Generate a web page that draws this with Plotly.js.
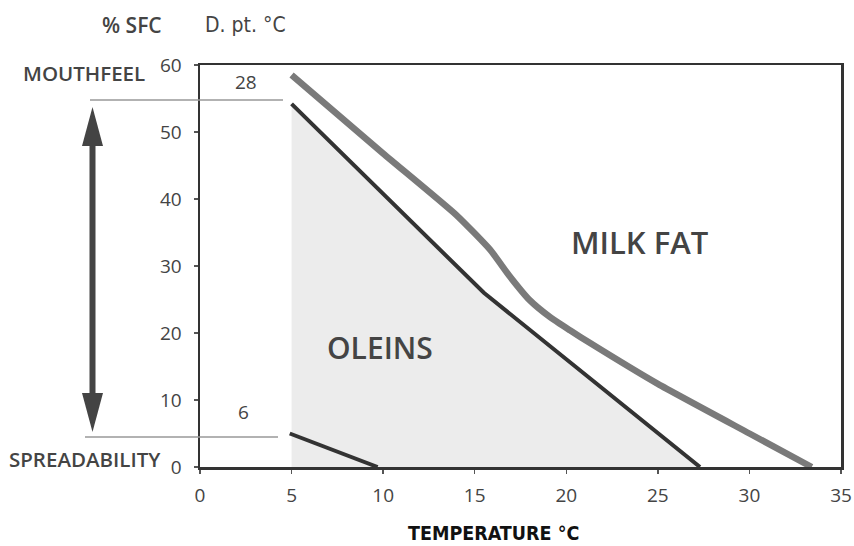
<!DOCTYPE html>
<html>
<head>
<meta charset="utf-8">
<script src="https://cdn.plot.ly/plotly-3.0.1.min.js"></script>
<style>html,body{margin:0;padding:0;background:#fff;}#chart{width:854px;height:546px;}</style>
</head>
<body>
<div id="chart"></div>
<script>
// Milk fat solid fat content curve
var milkFatTemp = [5, 10, 14, 15.85, 16.9, 18, 19.1, 20.2, 21.3, 25, 30, 33.4];
var milkFatSFC  = [58.5, 46.8, 37.6, 32.4, 28.5, 24.9, 22.4, 20.4, 18.5, 12.4, 5, 0];
// Oleins (shaded region upper boundary)
var oleinTemp = [5, 15.5, 27.3];
var oleinSFC  = [54.2, 26, 0];
// Low melting fraction
var lowTemp = [4.9, 9.7];
var lowSFC  = [5, 0];

var xTicks = [0, 5, 10, 15, 20, 25, 30, 35];
var yTicks = [0, 10, 20, 30, 40, 50, 60];

var TXT = '#444';
var LF = 'Open Sans';

var traces = [
  {x: oleinTemp, y: oleinSFC, mode: 'lines', fill: 'tozeroy', fillcolor: '#ececec',
   line: {color: '#333', width: 4}, hoverinfo: 'skip'},
  {x: lowTemp, y: lowSFC, mode: 'lines', line: {color: '#333', width: 4}, hoverinfo: 'skip'},
  {x: milkFatTemp, y: milkFatSFC, mode: 'lines', line: {color: '#7a7a7a', width: 6.5, shape: 'spline', smoothing: 0.5}, hoverinfo: 'skip'}
];

function px(p){ return (p - 200) / 641; }
function py(p){ return (467 - p) / 402; }

var shapes = [
  {type: 'line', xref: 'paper', yref: 'paper', x0: px(90), x1: px(283), y0: py(100), y1: py(100), line: {color: '#999', width: 1.3}},
  {type: 'line', xref: 'paper', yref: 'paper', x0: px(85), x1: px(278), y0: py(437), y1: py(437), line: {color: '#999', width: 1.3}},
  {type: 'line', xref: 'paper', yref: 'paper', x0: px(92.5), x1: px(92.5), y0: py(140), y1: py(398), line: {color: '#444', width: 6}},
  {type: 'path', xref: 'paper', yref: 'paper', fillcolor: '#444', line: {width: 0},
   path: 'M ' + px(92.5) + ' ' + py(107) + ' L ' + px(82) + ' ' + py(146) + ' L ' + px(103) + ' ' + py(146) + ' Z'},
  {type: 'path', xref: 'paper', yref: 'paper', fillcolor: '#444', line: {width: 0},
   path: 'M ' + px(92.5) + ' ' + py(432) + ' L ' + px(82) + ' ' + py(393) + ' L ' + px(103) + ' ' + py(393) + ' Z'}
];

var annotations = [
  {text: '% SFC', xref: 'paper', yref: 'paper', x: px(132), y: py(25), showarrow: false, xanchor: 'center', yanchor: 'middle',
   font: {family: LF, size: 21, color: TXT, weight: 600}},
  {text: 'D. pt. °C', xref: 'paper', yref: 'paper', x: px(245), y: py(25), showarrow: false, xanchor: 'center', yanchor: 'middle',
   font: {family: 'DejaVu Sans Condensed', size: 21, color: TXT}},
  {text: 'MOUTHFEEL', xref: 'paper', yref: 'paper', x: px(84), y: py(73), showarrow: false, xanchor: 'center', yanchor: 'middle',
   font: {family: LF, size: 20.5, color: TXT, weight: 600}},
  {text: 'SPREADABILITY', xref: 'paper', yref: 'paper', x: px(85), y: py(459), showarrow: false, xanchor: 'center', yanchor: 'middle',
   font: {family: LF, size: 20.5, color: TXT, weight: 600}},
  {text: '28', xref: 'x', yref: 'y', x: 2.5, y: 57.4, showarrow: false, font: {family: LF, size: 19, color: TXT}},
  {text: '6', xref: 'x', yref: 'y', x: 2.4, y: 8.2, showarrow: false, font: {family: LF, size: 19, color: TXT}},
  {text: 'OLEINS', xref: 'x', yref: 'y', x: 9.85, y: 17.8, showarrow: false, font: {family: LF, size: 30, color: TXT, weight: 600}},
  {text: 'MILK FAT', xref: 'x', yref: 'y', x: 24.0, y: 33.6, showarrow: false, font: {family: LF, size: 31, color: TXT, weight: 600}},
  {text: 'TEMPERATURE °C', xref: 'paper', yref: 'paper', x: px(493), y: py(533), showarrow: false, xanchor: 'center', yanchor: 'middle',
   font: {family: 'DejaVu Sans Condensed', size: 19.5, color: '#111', weight: 700}}
];

var layout = {
  width: 854, height: 546,
  margin: {l: 200, r: 13, t: 65, b: 79, pad: 0},
  paper_bgcolor: '#fff', plot_bgcolor: '#fff',
  showlegend: false,
  xaxis: {range: [0, 35], tickvals: xTicks, ticktext: xTicks.map(String), showgrid: false, zeroline: false,
          showline: true, linecolor: '#333', linewidth: 2.5, mirror: true, ticks: 'outside', ticklen: 4, tickwidth: 1.5, tickcolor: '#555',
          ticklabelstandoff: 6, tickfont: {family: LF, size: 19, color: TXT}, fixedrange: true},
  yaxis: {range: [0, 60], tickvals: yTicks, ticktext: yTicks.map(String), showgrid: false, zeroline: false,
          showline: true, linecolor: '#333', linewidth: 2.5, mirror: true, ticks: 'outside', ticklen: 4, tickwidth: 1.5, tickcolor: '#555',
          ticklabelstandoff: 8, tickfont: {family: LF, size: 19, color: TXT}, fixedrange: true},
  shapes: shapes,
  annotations: annotations
};

Plotly.newPlot('chart', traces, layout, {displayModeBar: false, staticPlot: true});
</script>
</body>
</html>
